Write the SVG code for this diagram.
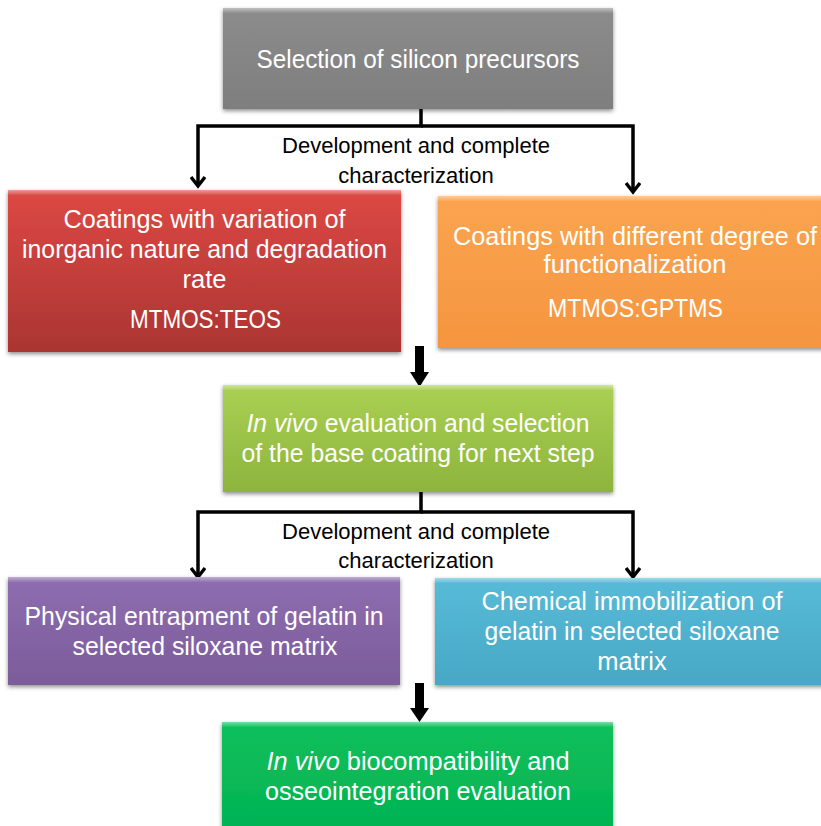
<svg xmlns="http://www.w3.org/2000/svg" width="821" height="826" viewBox="0 0 821 826">
<defs>
<style>
.box{filter:url(#sh);}
.t{font-family:"Liberation Sans",Arial,sans-serif;font-size:25.5px;fill:#ffffff;text-anchor:middle;}
.lbl{font-family:"Liberation Sans",Arial,sans-serif;font-size:22px;fill:#000000;text-anchor:middle;}
.con{fill:none;stroke:#000000;stroke-width:3.5;marker-end:url(#open);}
.blk{fill:#000000;}
.hi{fill:url(#hiG);}
</style>
<filter id="sh" x="-5%" y="-10%" width="110%" height="125%">
<feDropShadow dx="0" dy="2" stdDeviation="2" flood-color="#000000" flood-opacity="0.45"/>
</filter>
<linearGradient id="hiG" x1="0" y1="0" x2="0" y2="1">
<stop offset="0" stop-color="#ffffff" stop-opacity="0.45"/>
<stop offset="1" stop-color="#ffffff" stop-opacity="0.05"/>
</linearGradient>
<linearGradient id="gGray" x1="0" y1="0" x2="0" y2="1"><stop offset="0" stop-color="#8c8c8c"/><stop offset="1" stop-color="#7e7e7e"/></linearGradient>
<linearGradient id="gRed" x1="0" y1="0" x2="0" y2="1"><stop offset="0" stop-color="#dd4844"/><stop offset="1" stop-color="#aa3532"/></linearGradient>
<linearGradient id="gOrange" x1="0" y1="0" x2="0" y2="1"><stop offset="0" stop-color="#fba450"/><stop offset="1" stop-color="#f5953f"/></linearGradient>
<linearGradient id="gLime" x1="0" y1="0" x2="0" y2="1"><stop offset="0" stop-color="#aad153"/><stop offset="1" stop-color="#8db43c"/></linearGradient>
<linearGradient id="gPurple" x1="0" y1="0" x2="0" y2="1"><stop offset="0" stop-color="#8e6db0"/><stop offset="1" stop-color="#7b5c9a"/></linearGradient>
<linearGradient id="gBlue" x1="0" y1="0" x2="0" y2="1"><stop offset="0" stop-color="#57bbd8"/><stop offset="1" stop-color="#48a8c4"/></linearGradient>
<linearGradient id="gGreen" x1="0" y1="0" x2="0" y2="1"><stop offset="0" stop-color="#0cc05b"/><stop offset="1" stop-color="#03b252"/></linearGradient>
<marker id="open" markerWidth="14" markerHeight="16" refX="11" refY="8" orient="auto" markerUnits="userSpaceOnUse">
<path d="M2,1 L11,8 L2,15" fill="none" stroke="#000000" stroke-width="3.4"/>
</marker>
</defs>
<rect x="0" y="0" width="821" height="826" fill="#ffffff"/>

<g id="connectors">
<path class="con" d="M421,109 V126 H198 V186"/>
<path class="con" d="M421,126 H633 V192"/>
<polygon class="blk" points="415,346 424,346 424,372 429,372 419.5,387 410,372 415,372"/>
<path class="con" d="M421,492 V512 H198 V577"/>
<path class="con" d="M421,512 H633 V577"/>
<polygon class="blk" points="415,683 424,683 424,708 429,708 419.5,722 410,708 415,708"/>
<text class="lbl" x="416" y="153" textLength="268" lengthAdjust="spacingAndGlyphs">Development and complete</text>
<text class="lbl" x="416" y="183">characterization</text>
<text class="lbl" x="416" y="539" textLength="268" lengthAdjust="spacingAndGlyphs">Development and complete</text>
<text class="lbl" x="416" y="568">characterization</text>
</g>

<g id="n1">
<rect class="box" x="223" y="8" width="390" height="101" fill="url(#gGray)"/>
<rect class="hi" x="223" y="8" width="390" height="5"/>
<text class="t" x="418" y="68" textLength="323" lengthAdjust="spacingAndGlyphs">Selection of silicon precursors</text>
</g>

<g id="n2">
<rect class="box" x="8" y="190" width="393" height="162" fill="url(#gRed)"/>
<rect class="hi" x="8" y="190" width="393" height="5"/>
<text class="t" x="204.5" y="228" textLength="282" lengthAdjust="spacingAndGlyphs">Coatings with variation of</text>
<text class="t" x="204.5" y="258" textLength="365" lengthAdjust="spacingAndGlyphs">inorganic nature and degradation</text>
<text class="t" x="204.5" y="288">rate</text>
<text class="t" x="205.5" y="328" textLength="151" lengthAdjust="spacingAndGlyphs">MTMOS:TEOS</text>
</g>

<g id="n3">
<rect class="box" x="438" y="196" width="400" height="152" fill="url(#gOrange)"/>
<rect class="hi" x="438" y="196" width="400" height="5"/>
<text class="t" x="635" y="245" textLength="364" lengthAdjust="spacingAndGlyphs">Coatings with different degree of</text>
<text class="t" x="635" y="273">functionalization</text>
<text class="t" x="635.5" y="317" textLength="175" lengthAdjust="spacingAndGlyphs">MTMOS:GPTMS</text>
</g>

<g id="n4">
<rect class="box" x="223" y="385" width="390" height="107" fill="url(#gLime)"/>
<rect class="hi" x="223" y="385" width="390" height="5"/>
<text class="t" x="418" y="432" textLength="343" lengthAdjust="spacingAndGlyphs"><tspan font-style="italic">In vivo</tspan> evaluation and selection</text>
<text class="t" x="418" y="462" textLength="353" lengthAdjust="spacingAndGlyphs">of the base coating for next step</text>
</g>

<g id="n5">
<rect class="box" x="8" y="577" width="392" height="108" fill="url(#gPurple)"/>
<rect class="hi" x="8" y="577" width="392" height="5"/>
<text class="t" x="204" y="625" textLength="359" lengthAdjust="spacingAndGlyphs">Physical entrapment of gelatin in</text>
<text class="t" x="205" y="655" textLength="265" lengthAdjust="spacingAndGlyphs">selected siloxane matrix</text>
</g>

<g id="n6">
<rect class="box" x="435" y="578" width="400" height="107" fill="url(#gBlue)"/>
<rect class="hi" x="435" y="578" width="400" height="5"/>
<text class="t" x="632" y="610" textLength="301" lengthAdjust="spacingAndGlyphs">Chemical immobilization of</text>
<text class="t" x="632" y="640" textLength="295" lengthAdjust="spacingAndGlyphs">gelatin in selected siloxane</text>
<text class="t" x="632" y="670">matrix</text>
</g>

<g id="n7">
<rect class="box" x="222" y="722" width="391" height="115" fill="url(#gGreen)"/>
<rect class="hi" x="222" y="722" width="391" height="5"/>
<text class="t" x="418" y="770" textLength="303" lengthAdjust="spacingAndGlyphs"><tspan font-style="italic">In vivo</tspan> biocompatibility and</text>
<text class="t" x="418" y="800" textLength="306" lengthAdjust="spacingAndGlyphs">osseointegration evaluation</text>
</g>
</svg>
